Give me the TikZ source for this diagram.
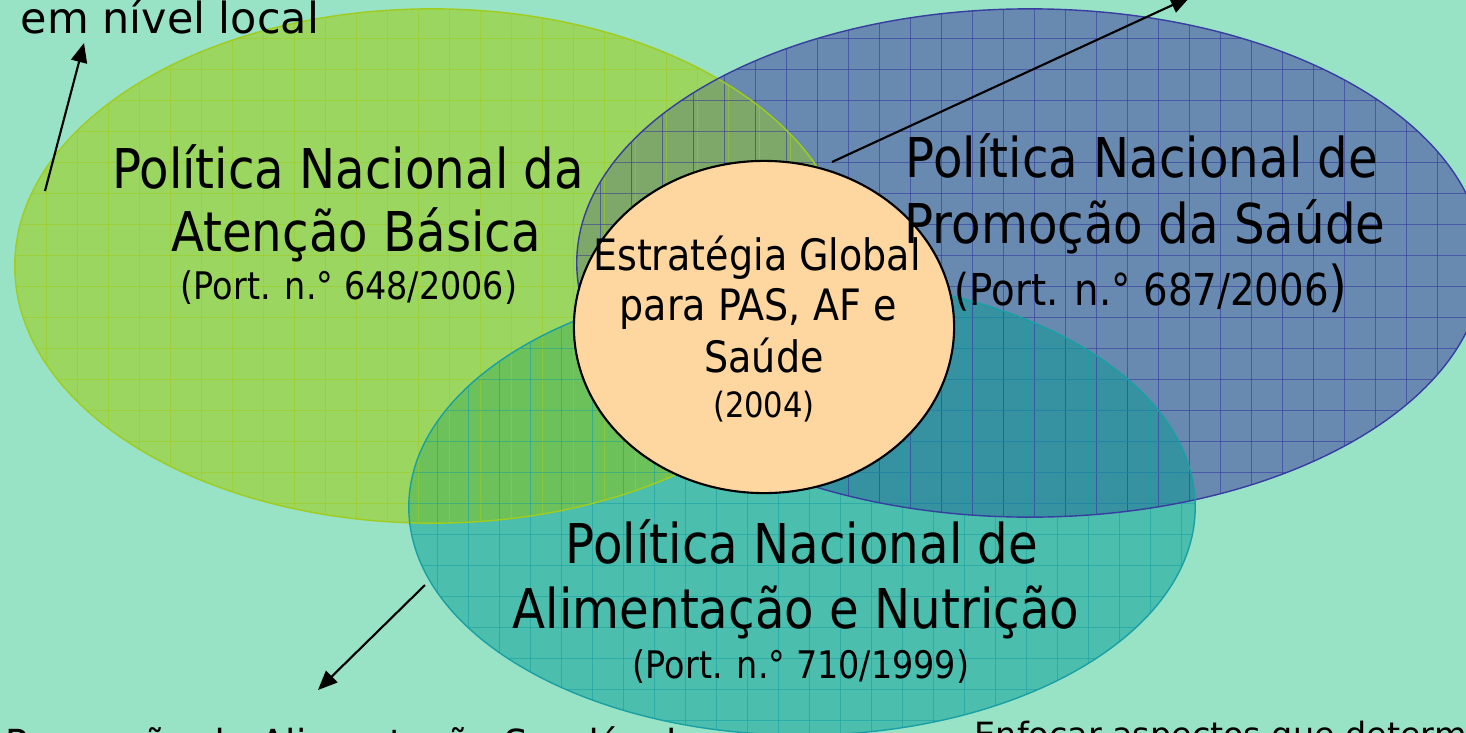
\documentclass[tikz,border=0pt]{standalone}
\usepackage{fontspec}
\setmainfont{DejaVu Sans}
\newfontfamily\lab[FakeStretch=0.88]{DejaVu Sans}
\usetikzlibrary{arrows.meta}
\definecolor{bg}{RGB}{152,226,197}
\definecolor{gfill}{RGB}{154,214,96}
\definecolor{bfill}{RGB}{104,138,176}
\definecolor{tfill}{RGB}{75,190,174}
\definecolor{gbfill}{RGB}{126,168,106}
\definecolor{gtfill}{RGB}{108,193,90}
\definecolor{btfill}{RGB}{54,145,160}
\definecolor{gbtfill}{RGB}{90,160,110}
\definecolor{gline}{RGB}{160,204,30}
\definecolor{bline}{RGB}{55,62,160}
\definecolor{tline}{RGB}{25,160,165}
\definecolor{circfill}{RGB}{253,214,160}
\tikzset{
  ggrid/.style={draw=gline, line width=0.25pt, draw opacity=0.55},
  bgrid/.style={draw=bline, line width=0.25pt, draw opacity=0.65},
  tgrid/.style={draw=tline, line width=0.25pt, draw opacity=0.6},
  lbl/.style={font=\lab\fontsize{15.6}{18}\selectfont, inner sep=0pt, text=black},
  sublbl/.style={font=\lab\fontsize{10.8}{13}\selectfont, inner sep=0pt, text=black},
  ctrlbl/.style={font=\lab\fontsize{12.3}{14}\selectfont, inner sep=0pt, text=black},
  ann/.style={font=\fontsize{12.2}{14}\selectfont, inner sep=0pt, text=black},
  arr/.style={draw=black, line width=0.6pt, -{Triangle[length=5.5pt,width=4.6pt]}},
}
\begin{document}
\begin{tikzpicture}[x=0.01cm,y=-0.01cm]
\useasboundingbox (0,0) rectangle (1466,733);
\clip (0,0) rectangle (1466,733);
\fill[bg] (0,0) rectangle (1466,733);
\coordinate (cg) at (432,266);
\coordinate (cb) at (1030,263);
\coordinate (ct) at (802,507);
\coordinate (cc) at (764,327);
% base fills
\fill[gfill] (cg) ellipse [x radius=4.17cm, y radius=2.57cm];
\fill[bfill] (cb) ellipse [x radius=4.53cm, y radius=2.54cm];
\fill[tfill] (ct) ellipse [x radius=3.93cm, y radius=2.28cm];
\begin{scope}
  \clip (cb) ellipse [x radius=4.53cm, y radius=2.54cm];
  \fill[btfill] (ct) ellipse [x radius=3.93cm, y radius=2.28cm];
\end{scope}
\begin{scope}
  \clip (cg) ellipse [x radius=4.17cm, y radius=2.57cm];
  \fill[gbfill] (cb) ellipse [x radius=4.53cm, y radius=2.54cm];
  \fill[gtfill] (ct) ellipse [x radius=3.93cm, y radius=2.28cm];
  \clip (cb) ellipse [x radius=4.53cm, y radius=2.54cm];
  \fill[gbtfill] (ct) ellipse [x radius=3.93cm, y radius=2.28cm];
\end{scope}
% grids
\begin{scope}
  \clip (cg) ellipse [x radius=4.17cm, y radius=2.57cm];
  \foreach \x in {15,46,...,860} \draw[ggrid] (\x,0) -- (\x,540);
  \foreach \y in {7,38,...,540} \draw[ggrid] (0,\y) -- (860,\y);
\end{scope}
\begin{scope}
  \clip (cb) ellipse [x radius=4.53cm, y radius=2.54cm];
  \foreach \x in {569,600,...,1490} \draw[bgrid] (\x,0) -- (\x,540);
  \foreach \y in {7,38,...,540} \draw[bgrid] (560,\y) -- (1490,\y);
\end{scope}
\begin{scope}
  \clip (ct) ellipse [x radius=3.93cm, y radius=2.28cm];
  \foreach \x in {406,437,...,1200} \draw[tgrid] (\x,270) -- (\x,740);
  \foreach \y in {286,317,...,740} \draw[tgrid] (400,\y) -- (1200,\y);
\end{scope}
% outlines
\draw[gline, line width=0.4pt] (cg) ellipse [x radius=4.17cm, y radius=2.57cm];
\draw[bline, line width=0.4pt] (cb) ellipse [x radius=4.53cm, y radius=2.54cm];
\draw[tline, line width=0.4pt] (ct) ellipse [x radius=3.93cm, y radius=2.28cm];
% central circle
\draw[fill=circfill, draw=black, line width=0.6pt] (cc) ellipse [x radius=1.9cm, y radius=1.66cm];
% labels
\node[lbl, anchor=base] (g1) at (348,188) {Política Nacional da};
\node[lbl, anchor=base] (g2) at (356,251) {Atenção Básica};
\node[sublbl, anchor=base] (g3) at (349,299) {(Port. n.° 648/2006)};
\node[lbl, anchor=base] (b1) at (1142,177) {Política Nacional de};
\node[lbl, anchor=base] (b2) at (1145,243) {Promoção da Saúde};
\node[sublbl, anchor=base] (b3) at (1151,305) {\fontsize{12.5}{14}\selectfont(Port. n.° 687/2006\fontsize{15.6}{18}\selectfont)};
\node[lbl, anchor=base] (t1) at (802,563) {Política Nacional de};
\node[lbl, anchor=base] (t2) at (796,628) {Alimentação e Nutrição};
\node[sublbl, anchor=base] (t3) at (801,678) {(Port. n.° 710/1999)};
\node[ctrlbl, anchor=base] (c1) at (757,270) {Estratégia Global};
\node[ctrlbl, anchor=base] (c2) at (758,320) {para PAS, AF e};
\node[ctrlbl, anchor=base] (c3) at (764,372) {Saúde};
\node[font=\lab\fontsize{9.9}{12}\selectfont, inner sep=0pt, anchor=base] (c4) at (764,417) {(2004)};
% annotations
\node[ann, anchor=base west] (n1) at (20,33) {em nível local};
\node[font=\fontsize{10.6}{13}\selectfont, inner sep=0pt, anchor=base west] (n2) at (5,756) {Promoção da Alimentação Saudável};
\node[font=\fontsize{9.5}{12}\selectfont, inner sep=0pt, anchor=base west] (n3) at (974,746) {Enfocar aspectos que determinam};
% arrows
\coordinate (a1s) at (45,191);
\coordinate (a1e) at (84,43);
\coordinate (a2s) at (832,162);
\coordinate (a2e) at (1190,-3);
\coordinate (a3s) at (425,585);
\coordinate (a3e) at (318,690);
\draw[arr] (a1s) -- (a1e);
\draw[arr] (a2s) -- (a2e);
\draw[arr] (a3s) -- (a3e);
\end{tikzpicture}
\end{document}
